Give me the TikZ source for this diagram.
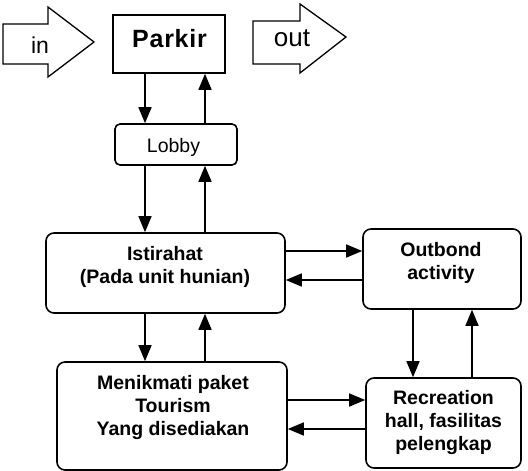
\documentclass[tikz,border=0pt]{standalone}
\usepackage{fontspec}
\setmainfont{Liberation Sans}
\usetikzlibrary{arrows.meta}
\begin{document}
\begin{tikzpicture}[x=1pt,y=-1pt,
  lw/.style={line width=1.6pt},
  sq/.style={draw,lw,inner sep=0pt},
  rbox/.style={draw,lw,rounded corners=8pt,inner sep=0pt},
  lbl/.style={font=\fontsize{19.5}{23}\selectfont\bfseries,align=center,inner sep=0pt},
  arr/.style={lw,-{Triangle[length=16pt,width=13pt]}},
  blockarr/.style={draw,line width=1.3pt,line join=miter}]
\useasboundingbox (0,0) rectangle (528,471);
% column and row guides
\coordinate (cA) at (145,0);
\coordinate (cB) at (205,0);
\coordinate (cC) at (413,0);
\coordinate (cD) at (472,0);
\coordinate (r1) at (0,251);
\coordinate (r2) at (0,280);
\coordinate (r3) at (0,400);
\coordinate (r4) at (0,429);
% block arrows
\draw[blockarr] (3,24) -- (48,24) -- (48,7) -- (94,42) -- (48,77) -- (48,64) -- (3,64) -- cycle;
\node[inner sep=0pt,font=\fontsize{23}{26}\selectfont] (in) at (40,45) {in};
\draw[blockarr] (253,21) -- (300,21) -- (300,4) -- (346,37) -- (300,73) -- (300,64) -- (253,64) -- cycle;
\node[inner sep=0pt,font=\fontsize{26}{30}\selectfont] (out) at (292,38) {out};
% boxes
\node[sq,minimum width=112pt,minimum height=58pt] (parkir) at (169,44) {};
\node[inner sep=0pt,font=\fontsize{25}{28}\selectfont\bfseries\addfontfeature{LetterSpace=3}] (parkirT) at (169.5,38.5) {Parkir};
\node[draw,lw,rounded corners=5pt,minimum width=122pt,minimum height=41pt] (lobby) at (176,144.5) {};
\node[inner sep=0pt,font=\fontsize{19.5}{23}\selectfont] (lobbyT) at (173.5,147) {Lobby};
\node[rbox,minimum width=239pt,minimum height=80pt] (ist) at (165.5,273) {};
\node[lbl] (istT) at (165,266.5) {Istirahat\\(Pada unit hunian)};
\node[rbox,minimum width=158pt,minimum height=80pt] (outb) at (442,269) {};
\node[lbl] (outbT) at (441,262.5) {Outbond\\activity};
\node[rbox,minimum width=230pt,minimum height=108pt] (menik) at (172,416) {};
\node[lbl] (menikT) at (173,407.5) {Menikmati paket\\Tourism\\Yang disediakan};
\node[rbox,minimum width=155pt,minimum height=90pt] (recr) at (443.5,423) {};
\node[lbl] (recrT) at (443.5,422.5) {Recreation\\hall, fasilitas\\pelengkap};
% connectors
\draw[arr] (parkir.south -| cA) -- (lobby.north -| cA);
\draw[arr] (lobby.north -| cB) -- (parkir.south -| cB);
\draw[arr] (lobby.south -| cA) -- (ist.north -| cA);
\draw[arr] (ist.north -| cB) -- (lobby.south -| cB);
\draw[arr] (ist.south -| cA) -- (menik.north -| cA);
\draw[arr] (menik.north -| cB) -- (ist.south -| cB);
\draw[arr] (ist.east |- r1) -- (outb.west |- r1);
\draw[arr] (outb.west |- r2) -- (ist.east |- r2);
\draw[arr] (menik.east |- r3) -- (recr.west |- r3);
\draw[arr] (recr.west |- r4) -- (menik.east |- r4);
\draw[arr] (outb.south -| cC) -- (recr.north -| cC);
\draw[arr] (recr.north -| cD) -- (outb.south -| cD);
\end{tikzpicture}
\end{document}
